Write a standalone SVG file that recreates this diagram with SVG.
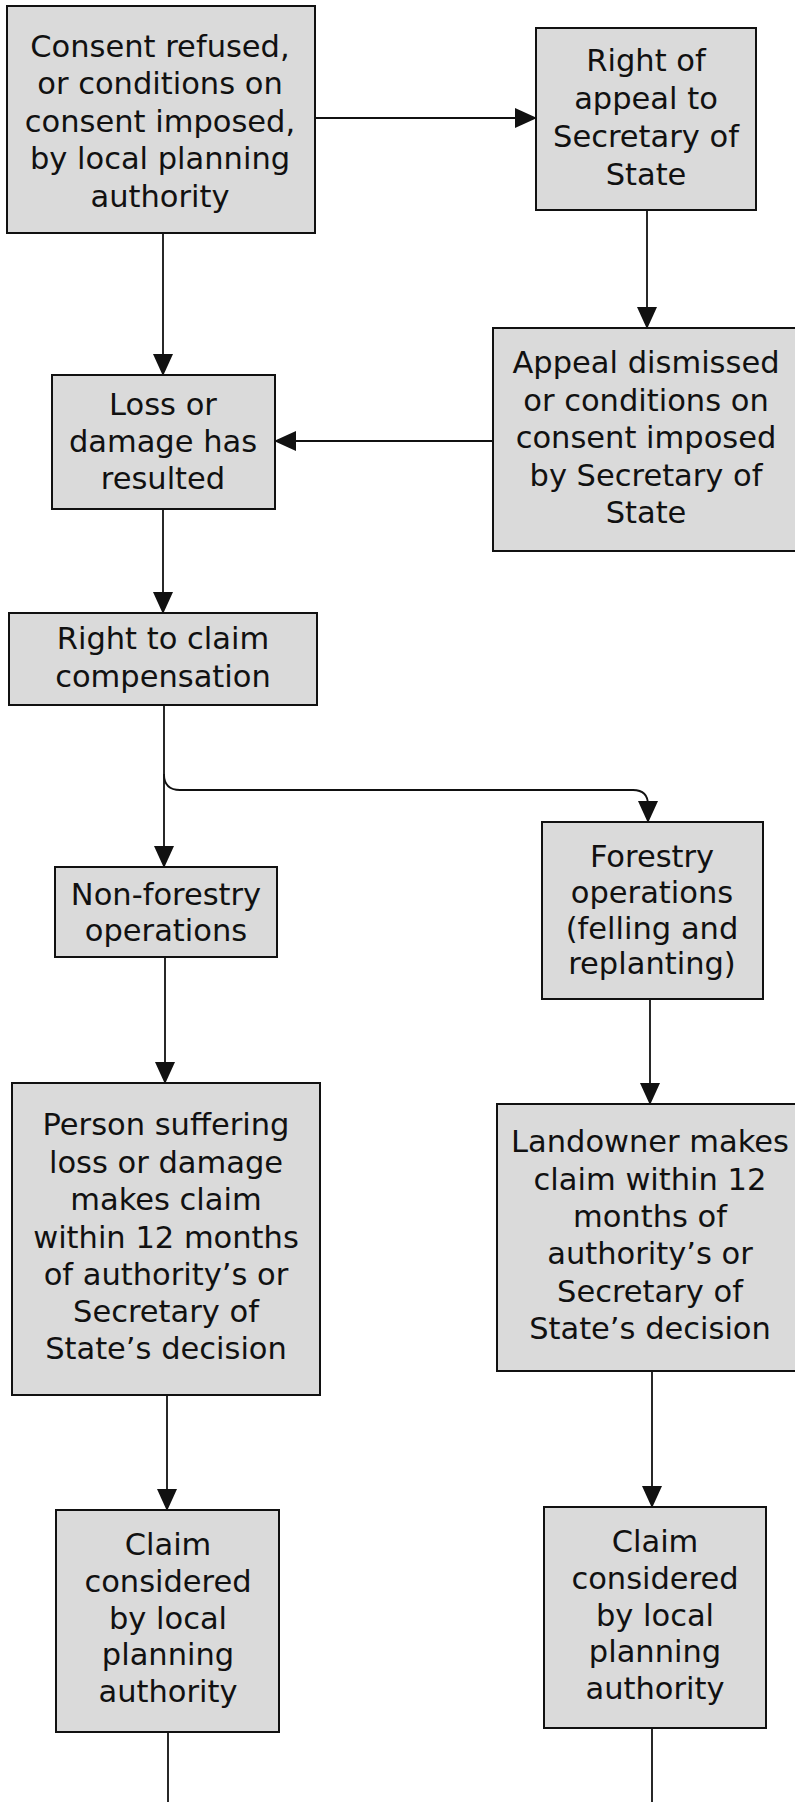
<svg xmlns="http://www.w3.org/2000/svg" width="795" height="1802" viewBox="0 0 795 1802">
<style>
.box{fill:#dadada;stroke:#111;stroke-width:2}
.lbl{font-family:"DejaVu Sans","Verdana",sans-serif;font-size:30.5px;fill:#111;text-anchor:middle}
.con{fill:none;stroke:#111;stroke-width:1.8}
</style>
<defs>
<marker id="ah" markerUnits="userSpaceOnUse" markerWidth="22" markerHeight="20" viewBox="0 0 22 20" refX="21" refY="10" orient="auto">
<path d="M0,0 L22,10 L0,20 Z" fill="#111"/>
</marker>
</defs>
<rect width="795" height="1802" fill="#fff"/>
<g id="connectors">
<path class="con" d="M315,118 L536,118" marker-end="url(#ah)"/>
<path class="con" d="M647,210 L647,328" marker-end="url(#ah)"/>
<path class="con" d="M493,441 L275,441" marker-end="url(#ah)"/>
<path class="con" d="M163,233 L163,375" marker-end="url(#ah)"/>
<path class="con" d="M163,509 L163,613" marker-end="url(#ah)"/>
<path class="con" d="M164,705 L164,867" marker-end="url(#ah)"/>
<path class="con" d="M164,774 Q164,790 180,790 L633,790 Q648,790 648,805 L648,822" marker-end="url(#ah)"/>
<path class="con" d="M165,957 L165,1083" marker-end="url(#ah)"/>
<path class="con" d="M650,999 L650,1104" marker-end="url(#ah)"/>
<path class="con" d="M167,1395 L167,1510" marker-end="url(#ah)"/>
<path class="con" d="M652,1371 L652,1507" marker-end="url(#ah)"/>
<path class="con" d="M168,1732 L168,1802"/>
<path class="con" d="M652,1728 L652,1802"/>
</g>
<g id="n1">
<rect class="box" x="7" y="6" width="308" height="227"/>
<text class="lbl"><tspan x="160" y="57">Consent refused,</tspan><tspan x="160" y="94">or conditions on</tspan><tspan x="160" y="132">consent imposed,</tspan><tspan x="160" y="169">by local planning</tspan><tspan x="160" y="207">authority</tspan></text>
</g>
<g id="n2">
<rect class="box" x="536" y="28" width="220" height="182"/>
<text class="lbl"><tspan x="646" y="71">Right of</tspan><tspan x="646" y="109">appeal to</tspan><tspan x="646" y="147">Secretary of</tspan><tspan x="646" y="185">State</tspan></text>
</g>
<g id="n3">
<rect class="box" x="493" y="328" width="320" height="223"/>
<text class="lbl"><tspan x="646" y="373">Appeal dismissed</tspan><tspan x="646" y="411">or conditions on</tspan><tspan x="646" y="448">consent imposed</tspan><tspan x="646" y="486">by Secretary of</tspan><tspan x="646" y="523">State</tspan></text>
</g>
<g id="n4">
<rect class="box" x="52" y="375" width="223" height="134"/>
<text class="lbl"><tspan x="163" y="415">Loss or</tspan><tspan x="163" y="452">damage has</tspan><tspan x="163" y="489">resulted</tspan></text>
</g>
<g id="n5">
<rect class="box" x="9" y="613" width="308" height="92"/>
<text class="lbl"><tspan x="163" y="649">Right to claim</tspan><tspan x="163" y="687">compensation</tspan></text>
</g>
<g id="n6">
<rect class="box" x="55" y="867" width="222" height="90"/>
<text class="lbl"><tspan x="166" y="905">Non-forestry</tspan><tspan x="166" y="941">operations</tspan></text>
</g>
<g id="n7">
<rect class="box" x="542" y="822" width="221" height="177"/>
<text class="lbl"><tspan x="652" y="867">Forestry</tspan><tspan x="652" y="903">operations</tspan><tspan x="652" y="939">(felling and</tspan><tspan x="652" y="974">replanting)</tspan></text>
</g>
<g id="n8">
<rect class="box" x="12" y="1083" width="308" height="312"/>
<text class="lbl"><tspan x="166" y="1135">Person suffering</tspan><tspan x="166" y="1173">loss or damage</tspan><tspan x="166" y="1210">makes claim</tspan><tspan x="166" y="1248">within 12 months</tspan><tspan x="166" y="1285">of authority’s or</tspan><tspan x="166" y="1322">Secretary of</tspan><tspan x="166" y="1359">State’s decision</tspan></text>
</g>
<g id="n9">
<rect class="box" x="497" y="1104" width="320" height="267"/>
<text class="lbl"><tspan x="650" y="1152">Landowner makes</tspan><tspan x="650" y="1190">claim within 12</tspan><tspan x="650" y="1227">months of</tspan><tspan x="650" y="1264">authority’s or</tspan><tspan x="650" y="1302">Secretary of</tspan><tspan x="650" y="1339">State’s decision</tspan></text>
</g>
<g id="n10">
<rect class="box" x="56" y="1510" width="223" height="222"/>
<text class="lbl"><tspan x="168" y="1555">Claim</tspan><tspan x="168" y="1592">considered</tspan><tspan x="168" y="1629">by local</tspan><tspan x="168" y="1665">planning</tspan><tspan x="168" y="1702">authority</tspan></text>
</g>
<g id="n11">
<rect class="box" x="544" y="1507" width="222" height="221"/>
<text class="lbl"><tspan x="655" y="1552">Claim</tspan><tspan x="655" y="1589">considered</tspan><tspan x="655" y="1626">by local</tspan><tspan x="655" y="1662">planning</tspan><tspan x="655" y="1699">authority</tspan></text>
</g>
</svg>
